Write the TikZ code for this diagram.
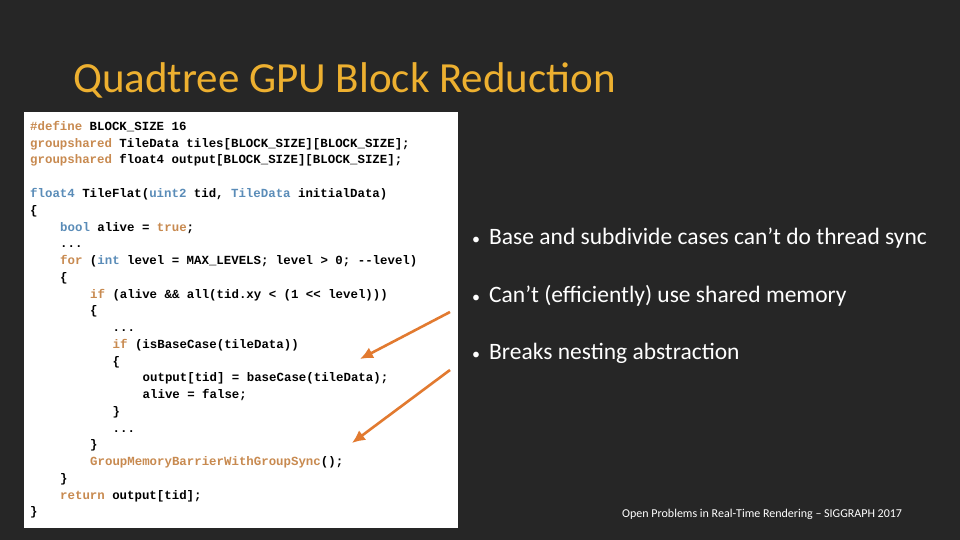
\documentclass[tikz,border=0pt]{standalone}
\usepackage{fontspec}
\usetikzlibrary{arrows.meta}
\setmainfont{Carlito}
\newfontfamily\codefont{Liberation Mono}
\definecolor{bg}{HTML}{262626}
\definecolor{kwc}{HTML}{C88A50}
\definecolor{tyc}{HTML}{5A8CB8}
\definecolor{titlec}{HTML}{EDB030}
\definecolor{arrc}{HTML}{E27A30}
\newcommand{\kw}[1]{\textcolor{kwc}{#1}}
\newcommand{\ty}[1]{\textcolor{tyc}{#1}}
\tikzset{codeline/.style={anchor=base west,inner sep=0pt,font=\codefont\bfseries\fontsize{12.4}{14}\selectfont,text=black},
bullet/.style={anchor=west,inner sep=0pt,font=\fontsize{23.5}{26}\selectfont,text=white},
arr/.style={draw=arrc,line width=2.6pt,-{Latex[length=13pt,width=12pt]}}}
\begin{document}
\begin{tikzpicture}[x=1pt,y=-1pt]
\fill[bg] (0,0) rectangle (960,540);
\useasboundingbox (0,0) rectangle (960,540);
\node[anchor=west,inner sep=0pt,text=titlec,font=\fontsize{43}{46}\selectfont] (title) at (73,80) {Quadtree GPU Block Reduction};
\fill[white] (24,112) rectangle (458,528);
\node[codeline] (c0) at (30,130.5) {\kw{\#define} BLOCK\_SIZE 16};
\node[codeline] (c1) at (30,147.25) {\kw{groupshared} TileData tiles[BLOCK\_SIZE][BLOCK\_SIZE];};
\node[codeline] (c2) at (30,164) {\kw{groupshared} float4 output[BLOCK\_SIZE][BLOCK\_SIZE];};
\node[codeline] (c4) at (30,197.5) {\ty{float4} TileFlat(\ty{uint2} tid, \ty{TileData} initialData)};
\node[codeline] (c5) at (30,214.25) {\{};
\node[codeline] (c6) at (60,231) {\ty{bool} alive = \kw{true};};
\node[codeline] (c7) at (60,247.75) {...};
\node[codeline] (c8) at (60,264.5) {\kw{for} (\ty{int} level = MAX\_LEVELS; level > 0; --level)};
\node[codeline] (c9) at (60,281.25) {\{};
\node[codeline] (c10) at (90,298) {\kw{if} (alive \&\& all(tid.xy < (1 << level)))};
\node[codeline] (c11) at (90,314.75) {\{};
\node[codeline] (c12) at (112.5,331.5) {...};
\node[codeline] (c13) at (112.5,348.25) {\kw{if} (isBaseCase(tileData))};
\node[codeline] (c14) at (112.5,365) {\{};
\node[codeline] (c15) at (142.5,381.75) {output[tid] = baseCase(tileData);};
\node[codeline] (c16) at (142.5,398.5) {alive = false;};
\node[codeline] (c17) at (112.5,415.25) {\}};
\node[codeline] (c18) at (112.5,432) {...};
\node[codeline] (c19) at (90,448.75) {\}};
\node[codeline] (c20) at (90,465.5) {\kw{GroupMemoryBarrierWithGroupSync}();};
\node[codeline] (c21) at (60,482.25) {\}};
\node[codeline] (c22) at (60,499) {\kw{return} output[tid];};
\node[codeline] (c23) at (30,515.75) {\}};
\node[bullet] (b1) at (472,238) {{\fontsize{16}{18}\selectfont\textbullet}\hspace{9pt}Base and subdivide cases can’t do thread sync};
\node[bullet] (b2) at (472,296) {{\fontsize{16}{18}\selectfont\textbullet}\hspace{9pt}Can’t (efficiently) use shared memory};
\node[bullet] (b3) at (472,353) {{\fontsize{16}{18}\selectfont\textbullet}\hspace{9pt}Breaks nesting abstraction};
\coordinate (a1s) at (450,312);
\coordinate (a1e) at (360,359);
\coordinate (a2s) at (450,370);
\coordinate (a2e) at (352,443);
\draw[arr] (a1s) -- (a1e);
\draw[arr] (a2s) -- (a2e);
\node[anchor=west,inner sep=0pt,text=white,font=\fontsize{12}{14}\selectfont] (foot) at (622,514) {Open Problems in Real-Time Rendering – SIGGRAPH 2017};
\end{tikzpicture}
\end{document}
